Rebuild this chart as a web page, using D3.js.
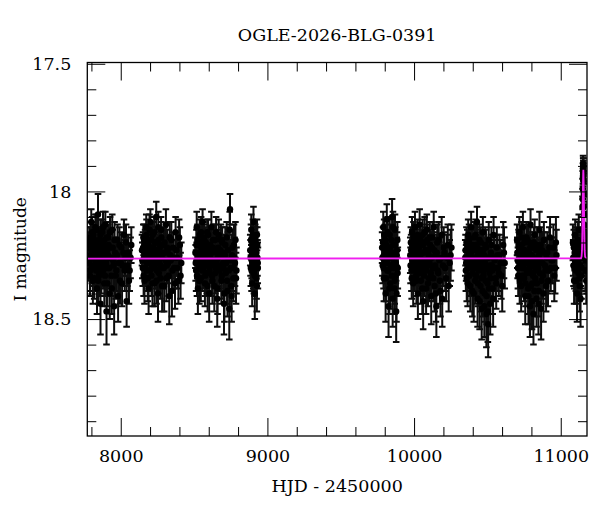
<!DOCTYPE html>
<html>
<head>
<meta charset="utf-8">
<script src="https://cdn.jsdelivr.net/npm/d3@7"></script>
<style>
  html, body { margin: 0; padding: 0; background: #fff; }
  #chart { width: 600px; height: 512px; }
  text { font-family: "DejaVu Serif", "Liberation Serif", serif; fill: #000; }
</style>
</head>
<body>
<div id="chart"></div>
<script>
// ============================================================================
// OGLE light curve: I magnitude vs HJD, with point-lens model
// ============================================================================

const title = "OGLE-2026-BLG-0391";
const xLabel = "HJD - 2450000";
const yLabel = "I magnitude";

const xMajorTicks = [8000, 9000, 10000, 11000];
const yMajorTicks = [17.5, 18, 18.5];

// observing seasons, each point is [HJD - 2450000, I mag, error]
const season1 = [[7779,18.22,0.06],[7784,18.27,0.07],[7788,18.19,0.05],[7792,18.31,0.08],[7795,18.25,0.06],[7799,18.12,0.05],[7803,18.29,0.07],[7806,18.21,0.06],[7810,18.35,0.09],[7813,18.17,0.05],[7817,18.26,0.06],[7820,18.23,0.06],[7824,18.30,0.07],[7827,18.14,0.05],[7831,18.28,0.07],[7834,18.20,0.06],[7838,18.38,0.10],[7841,18.24,0.06],[7845,18.09,0.08],[7848,18.27,0.06],[7852,18.33,0.08],[7855,18.19,0.05],[7859,18.25,0.06],[7862,18.44,0.12],[7866,18.22,0.06],[7869,18.29,0.07],[7873,18.16,0.05],[7877,18.26,0.06],[7880,18.31,0.07],[7884,18.21,0.06],[7888,18.36,0.09],[7891,18.24,0.06],[7895,18.13,0.05],[7899,18.28,0.07],[7903,18.47,0.13],[7907,18.23,0.06],[7911,18.30,0.07],[7915,18.18,0.05],[7920,18.26,0.06],[7925,18.40,0.10],[7930,18.22,0.06],[7936,18.33,0.08],[7942,18.15,0.06],[7948,18.27,0.07],[7955,18.45,0.11],[7962,18.24,0.06],[7970,18.31,0.08],[7978,18.19,0.06],[7987,18.28,0.07],[7995,18.35,0.09],[8004,18.22,0.06],[8013,18.29,0.08],[8022,18.17,0.06],[8031,18.26,0.07],[8040,18.43,0.10],[8050,18.24,0.07],[8061,18.31,0.08],[8072,18.21,0.07],
  [7781,18.28,0.07],[7786,18.20,0.06],[7790,18.33,0.08],[7794,18.18,0.06],[7797,18.26,0.07],[7801,18.23,0.06],[7805,18.16,0.06],[7808,18.30,0.07],[7812,18.25,0.06],[7815,18.21,0.06],[7819,18.34,0.08],[7822,18.19,0.06],[7826,18.27,0.07],[7829,18.24,0.06],[7833,18.31,0.08],[7836,18.15,0.06],[7840,18.28,0.07],[7843,18.22,0.06],[7847,18.35,0.09],[7850,18.20,0.06],[7854,18.26,0.07],[7857,18.30,0.07],[7861,18.17,0.06],[7864,18.24,0.06],[7868,18.32,0.08],[7871,18.21,0.06],[7875,18.28,0.07],[7879,18.14,0.06],[7882,18.25,0.07],[7886,18.29,0.07],[7889,18.19,0.06],[7893,18.33,0.08],[7897,18.23,0.06],[7901,18.27,0.07],[7905,18.18,0.06],[7909,18.36,0.09],[7913,18.25,0.07],[7917,18.21,0.06],[7922,18.30,0.08],[7927,18.16,0.06],[7933,18.26,0.07],[7939,18.38,0.10],[7945,18.22,0.07],[7951,18.29,0.08],[7958,18.19,0.07],[7966,18.33,0.09],[7974,18.25,0.07],[7982,18.41,0.10],[7991,18.21,0.07],[8000,18.28,0.08],[8009,18.36,0.09],[8018,18.24,0.07],[8027,18.31,0.08],[8036,18.20,0.07],[8045,18.29,0.08],[8056,18.35,0.09],[8067,18.26,0.08]];
const season2 = [[8145,18.23,0.06],[8150,18.30,0.07],[8154,18.18,0.05],[8158,18.27,0.07],[8162,18.35,0.09],[8166,18.21,0.06],[8170,18.26,0.06],[8174,18.14,0.05],[8178,18.31,0.08],[8182,18.24,0.06],[8186,18.19,0.06],[8190,18.38,0.10],[8194,18.25,0.06],[8198,18.28,0.07],[8202,18.12,0.05],[8206,18.22,0.06],[8210,18.33,0.08],[8214,18.26,0.06],[8218,18.17,0.05],[8222,18.29,0.07],[8226,18.23,0.06],[8230,18.36,0.09],[8234,18.20,0.06],[8238,18.27,0.07],[8242,18.10,0.06],[8246,18.31,0.07],[8250,18.24,0.06],[8254,18.40,0.11],[8258,18.19,0.05],[8262,18.28,0.07],[8266,18.22,0.06],[8270,18.34,0.08],[8275,18.15,0.05],[8280,18.26,0.06],[8285,18.30,0.08],[8290,18.21,0.06],[8296,18.37,0.10],[8302,18.24,0.06],[8308,18.13,0.06],[8314,18.29,0.07],[8320,18.23,0.06],[8327,18.33,0.08],[8334,18.18,0.06],[8341,18.27,0.07],[8349,18.39,0.10],[8357,18.22,0.06],[8365,18.30,0.08],[8374,18.16,0.06],[8383,18.26,0.07],[8393,18.35,0.09],[8403,18.21,0.07],[8413,18.28,0.08],
  [8147,18.27,0.07],[8152,18.22,0.06],[8156,18.33,0.08],[8160,18.19,0.06],[8164,18.25,0.06],[8168,18.30,0.07],[8172,18.23,0.06],[8176,18.17,0.06],[8180,18.28,0.07],[8184,18.34,0.09],[8188,18.21,0.06],[8192,18.26,0.07],[8196,18.15,0.06],[8200,18.31,0.08],[8204,18.24,0.06],[8208,18.19,0.06],[8212,18.29,0.07],[8216,18.36,0.09],[8220,18.22,0.06],[8224,18.27,0.07],[8228,18.16,0.06],[8232,18.30,0.08],[8236,18.25,0.06],[8240,18.20,0.06],[8244,18.35,0.09],[8248,18.23,0.06],[8252,18.28,0.07],[8256,18.14,0.06],[8260,18.32,0.08],[8264,18.26,0.07],[8268,18.21,0.06],[8272,18.29,0.07],[8277,18.18,0.06],[8282,18.37,0.10],[8287,18.24,0.07],[8293,18.30,0.08],[8299,18.20,0.06],[8305,18.27,0.07],[8311,18.34,0.09],[8317,18.22,0.07],[8324,18.28,0.08],[8331,18.41,0.11],[8338,18.25,0.07],[8345,18.19,0.07],[8353,18.31,0.08],[8361,18.26,0.07],[8370,18.36,0.10],[8379,18.23,0.07],[8388,18.30,0.08],[8398,18.18,0.07],[8408,18.33,0.09]];
const season3 = [[8509,18.24,0.06],[8514,18.31,0.08],[8518,18.14,0.06],[8522,18.27,0.07],[8526,18.38,0.10],[8530,18.21,0.06],[8534,18.29,0.07],[8538,18.17,0.06],[8542,18.25,0.06],[8546,18.34,0.09],[8550,18.22,0.06],[8554,18.28,0.07],[8558,18.12,0.05],[8562,18.30,0.08],[8566,18.24,0.06],[8570,18.19,0.06],[8574,18.36,0.09],[8578,18.26,0.07],[8582,18.23,0.06],[8586,18.32,0.08],[8590,18.16,0.05],[8594,18.27,0.07],[8598,18.21,0.06],[8603,18.40,0.11],[8608,18.25,0.06],[8613,18.29,0.07],[8618,18.14,0.06],[8623,18.33,0.08],[8628,18.22,0.06],[8633,18.27,0.07],[8638,18.37,0.10],[8643,18.19,0.06],[8648,18.30,0.08],[8653,18.24,0.06],[8658,18.42,0.11],[8663,18.26,0.07],[8668,18.17,0.06],[8674,18.31,0.08],[8680,18.23,0.06],[8686,18.35,0.09],[8692,18.20,0.06],[8698,18.28,0.07],[8704,18.44,0.12],[8710,18.25,0.07],[8716,18.32,0.08],[8722,18.18,0.06],[8728,18.39,0.10],[8734,18.27,0.07],[8740,18.46,0.12],[8745,18.07,0.06],[8750,18.30,0.08],[8756,18.41,0.10],[8762,18.22,0.07],[8768,18.34,0.09],[8775,18.26,0.08],[8782,18.19,0.07],[8789,18.31,0.09],
  [8511,18.28,0.07],[8516,18.21,0.06],[8520,18.33,0.08],[8524,18.19,0.06],[8528,18.26,0.07],[8532,18.24,0.06],[8536,18.35,0.09],[8540,18.20,0.06],[8544,18.29,0.07],[8548,18.16,0.06],[8552,18.27,0.07],[8556,18.31,0.08],[8560,18.22,0.06],[8564,18.18,0.06],[8568,18.28,0.07],[8572,18.25,0.06],[8576,18.33,0.08],[8580,18.20,0.06],[8584,18.29,0.07],[8588,18.23,0.06],[8592,18.37,0.10],[8596,18.17,0.06],[8600,18.26,0.07],[8605,18.31,0.08],[8610,18.21,0.06],[8615,18.27,0.07],[8620,18.24,0.06],[8625,18.35,0.09],[8630,18.19,0.06],[8635,18.29,0.07],[8640,18.23,0.06],[8645,18.32,0.08],[8650,18.16,0.06],[8655,18.27,0.07],[8660,18.38,0.10],[8665,18.22,0.07],[8671,18.29,0.08],[8677,18.25,0.07],[8683,18.19,0.06],[8689,18.33,0.09],[8695,18.24,0.07],[8701,18.30,0.08],[8707,18.40,0.11],[8713,18.21,0.07],[8719,18.28,0.08],[8725,18.35,0.09],[8731,18.23,0.07],[8737,18.31,0.08],[8743,18.15,0.07],[8748,18.27,0.08],[8753,18.37,0.10],[8759,18.25,0.08],[8765,18.30,0.09],[8772,18.21,0.08],[8779,18.28,0.09],[8786,18.34,0.10]];
const season4 = [[8883,18.23,0.06],[8887,18.30,0.07],[8890,18.15,0.06],[8893,18.27,0.07],[8896,18.36,0.09],[8899,18.21,0.06],[8902,18.26,0.06],[8905,18.12,0.06],[8908,18.32,0.08],[8911,18.24,0.06],[8914,18.40,0.10],[8917,18.19,0.06],[8920,18.28,0.07],[8923,18.22,0.06],[8926,18.34,0.08],[8929,18.17,0.06],[8932,18.26,0.07],[8935,18.30,0.08],
  [8885,18.26,0.07],[8888,18.19,0.06],[8892,18.31,0.08],[8895,18.24,0.06],[8898,18.28,0.07],[8901,18.17,0.06],[8904,18.30,0.08],[8907,18.22,0.06],[8910,18.27,0.07],[8913,18.33,0.08],[8916,18.25,0.07],[8919,18.20,0.06],[8922,18.29,0.07],[8925,18.24,0.07],[8928,18.37,0.10],[8931,18.21,0.07],[8934,18.28,0.08]];
const season5 = [[9782,18.22,0.06],[9786,18.29,0.07],[9790,18.14,0.06],[9794,18.34,0.09],[9798,18.25,0.06],[9802,18.19,0.06],[9806,18.40,0.11],[9810,18.27,0.07],[9814,18.11,0.06],[9818,18.31,0.08],[9822,18.23,0.06],[9826,18.45,0.12],[9830,18.26,0.07],[9834,18.17,0.06],[9838,18.36,0.10],[9842,18.24,0.06],[9846,18.30,0.08],[9850,18.10,0.07],[9854,18.42,0.11],[9858,18.21,0.06],[9862,18.28,0.07],[9866,18.38,0.10],[9870,18.15,0.06],[9874,18.33,0.08],[9878,18.47,0.12],[9882,18.25,0.07],[9886,18.19,0.07],[9889,18.30,0.08],
  [9784,18.26,0.07],[9788,18.20,0.06],[9792,18.30,0.08],[9796,18.17,0.06],[9800,18.27,0.07],[9804,18.23,0.06],[9808,18.34,0.09],[9812,18.21,0.06],[9816,18.28,0.07],[9820,18.16,0.06],[9824,18.31,0.08],[9828,18.25,0.07],[9832,18.38,0.10],[9836,18.22,0.06],[9840,18.29,0.07],[9844,18.19,0.06],[9848,18.33,0.09],[9852,18.26,0.07],[9856,18.14,0.06],[9860,18.30,0.08],[9864,18.24,0.07],[9868,18.35,0.09],[9872,18.21,0.07],[9876,18.28,0.08],[9880,18.40,0.11],[9884,18.23,0.07],[9888,18.32,0.09]];
const season6 = [[9974,18.25,0.07],[9978,18.20,0.06],[9982,18.31,0.08],[9986,18.16,0.06],[9990,18.27,0.07],[9994,18.36,0.09],[9998,18.22,0.06],[10002,18.29,0.07],[10006,18.14,0.06],[10010,18.25,0.06],[10014,18.33,0.08],[10018,18.19,0.06],[10022,18.27,0.07],[10026,18.40,0.10],[10030,18.23,0.06],[10034,18.30,0.07],[10038,18.13,0.06],[10042,18.26,0.06],[10046,18.35,0.09],[10050,18.21,0.06],[10054,18.28,0.07],[10058,18.17,0.06],[10062,18.43,0.11],[10066,18.24,0.06],[10070,18.31,0.08],[10074,18.20,0.06],[10078,18.27,0.07],[10082,18.38,0.10],[10087,18.15,0.06],[10092,18.29,0.07],[10097,18.23,0.06],[10102,18.34,0.09],[10107,18.18,0.06],[10112,18.26,0.07],[10117,18.41,0.11],[10122,18.22,0.06],[10128,18.30,0.08],[10134,18.14,0.06],[10140,18.37,0.10],[10146,18.25,0.07],[10152,18.45,0.12],[10158,18.20,0.07],[10165,18.32,0.08],[10172,18.27,0.07],[10180,18.39,0.10],[10188,18.17,0.07],[10197,18.29,0.08],[10207,18.24,0.08],[10218,18.34,0.09],[10230,18.21,0.08],[10243,18.28,0.09],[10255,18.22,0.09],
  [9976,18.29,0.07],[9980,18.23,0.06],[9984,18.34,0.08],[9988,18.21,0.06],[9992,18.26,0.07],[9996,18.18,0.06],[10000,18.31,0.08],[10004,18.24,0.06],[10008,18.28,0.07],[10012,18.20,0.06],[10016,18.35,0.09],[10020,18.25,0.06],[10024,18.17,0.06],[10028,18.29,0.07],[10032,18.22,0.06],[10036,18.32,0.08],[10040,18.26,0.07],[10044,18.19,0.06],[10048,18.30,0.08],[10052,18.24,0.06],[10056,18.38,0.10],[10060,18.21,0.06],[10064,18.27,0.07],[10068,18.33,0.08],[10072,18.16,0.06],[10076,18.29,0.07],[10080,18.23,0.06],[10085,18.31,0.08],[10090,18.19,0.06],[10095,18.36,0.09],[10100,18.25,0.07],[10105,18.28,0.07],[10110,18.21,0.06],[10115,18.32,0.08],[10120,18.26,0.07],[10125,18.18,0.06],[10131,18.34,0.09],[10137,18.23,0.07],[10143,18.29,0.08],[10149,18.40,0.11],[10155,18.24,0.07],[10161,18.31,0.08],[10168,18.19,0.07],[10176,18.35,0.09],[10184,18.26,0.08],[10192,18.42,0.11],[10202,18.22,0.08],[10212,18.30,0.09],[10224,18.26,0.09],[10236,18.37,0.10],[10249,18.25,0.10]];
const season7 = [[10349,18.26,0.07],[10353,18.31,0.08],[10357,18.20,0.06],[10361,18.28,0.07],[10365,18.36,0.09],[10369,18.17,0.06],[10373,18.25,0.06],[10377,18.33,0.08],[10381,18.22,0.06],[10385,18.29,0.07],[10389,18.14,0.06],[10393,18.27,0.07],[10397,18.39,0.10],[10401,18.23,0.06],[10405,18.30,0.08],[10409,18.18,0.06],[10413,18.26,0.07],[10417,18.35,0.09],[10421,18.21,0.06],[10425,18.28,0.07],[10429,18.12,0.06],[10433,18.42,0.11],[10437,18.25,0.07],[10441,18.31,0.08],[10445,18.19,0.06],[10449,18.27,0.07],[10453,18.37,0.10],[10457,18.23,0.06],[10461,18.46,0.12],[10465,18.29,0.08],[10469,18.16,0.06],[10473,18.33,0.09],[10477,18.25,0.07],[10481,18.40,0.11],[10485,18.21,0.07],[10489,18.30,0.08],[10493,18.48,0.13],[10497,18.26,0.07],[10501,18.36,0.10],[10505,18.52,0.13],[10509,18.19,0.07],[10514,18.32,0.09],[10519,18.44,0.12],[10524,18.24,0.07],[10530,18.29,0.08],[10536,18.38,0.10],[10542,18.17,0.07],[10549,18.27,0.08],[10556,18.34,0.09],[10564,18.22,0.08],[10573,18.30,0.09],[10583,18.25,0.08],[10595,18.33,0.09],[10608,18.21,0.09],[10618,18.28,0.10],
  [10351,18.23,0.06],[10355,18.28,0.07],[10359,18.34,0.09],[10363,18.21,0.06],[10367,18.27,0.07],[10371,18.30,0.08],[10375,18.19,0.06],[10379,18.26,0.07],[10383,18.37,0.10],[10387,18.24,0.06],[10391,18.29,0.07],[10395,18.21,0.06],[10399,18.32,0.08],[10403,18.26,0.07],[10407,18.40,0.11],[10411,18.23,0.06],[10415,18.29,0.07],[10419,18.17,0.06],[10423,18.33,0.08],[10427,18.27,0.07],[10431,18.22,0.06],[10435,18.36,0.09],[10439,18.28,0.07],[10443,18.24,0.07],[10447,18.43,0.11],[10451,18.30,0.08],[10455,18.20,0.06],[10459,18.34,0.09],[10463,18.27,0.07],[10467,18.39,0.10],[10471,18.23,0.07],[10475,18.31,0.08],[10479,18.45,0.12],[10483,18.28,0.08],[10487,18.35,0.09],[10491,18.22,0.07],[10495,18.41,0.11],[10499,18.30,0.08],[10503,18.47,0.12],[10507,18.26,0.08],[10511,18.38,0.10],[10516,18.29,0.08],[10521,18.34,0.09],[10527,18.21,0.07],[10533,18.31,0.08],[10539,18.42,0.11],[10545,18.26,0.08],[10552,18.30,0.09],[10560,18.36,0.10],[10568,18.25,0.08],[10578,18.32,0.09],[10589,18.28,0.09],[10601,18.37,0.10],[10613,18.24,0.10]];
const season8 = [[10702,18.19,0.06],[10706,18.27,0.07],[10710,18.33,0.08],[10714,18.22,0.06],[10718,18.16,0.06],[10722,18.29,0.07],[10726,18.25,0.06],[10730,18.37,0.10],[10734,18.21,0.06],[10738,18.30,0.08],[10742,18.14,0.06],[10746,18.26,0.07],[10750,18.34,0.09],[10754,18.23,0.06],[10758,18.41,0.11],[10762,18.28,0.07],[10766,18.18,0.06],[10770,18.31,0.08],[10774,18.24,0.06],[10778,18.38,0.10],[10782,18.20,0.06],[10786,18.27,0.07],[10790,18.45,0.12],[10794,18.13,0.06],[10798,18.32,0.08],[10802,18.25,0.07],[10806,18.36,0.09],[10810,18.22,0.06],[10814,18.48,0.12],[10818,18.29,0.08],[10822,18.17,0.06],[10826,18.34,0.09],[10830,18.26,0.07],[10835,18.42,0.11],[10840,18.21,0.07],[10845,18.30,0.08],[10850,18.39,0.10],[10855,18.15,0.07],[10860,18.27,0.08],[10866,18.46,0.12],[10872,18.23,0.07],[10878,18.33,0.09],[10885,18.19,0.07],[10892,18.29,0.08],[10900,18.37,0.10],[10908,18.24,0.08],[10917,18.31,0.09],[10927,18.18,0.08],[10938,18.27,0.09],[10950,18.22,0.09],[10962,18.30,0.10],[10971,18.25,0.10],
  [10704,18.24,0.06],[10708,18.30,0.08],[10712,18.21,0.06],[10716,18.27,0.07],[10720,18.35,0.09],[10724,18.22,0.06],[10728,18.29,0.07],[10732,18.18,0.06],[10736,18.26,0.07],[10740,18.33,0.08],[10744,18.23,0.06],[10748,18.30,0.08],[10752,18.20,0.06],[10756,18.28,0.07],[10760,18.36,0.09],[10764,18.25,0.07],[10768,18.32,0.08],[10772,18.19,0.06],[10776,18.27,0.07],[10780,18.41,0.11],[10784,18.24,0.07],[10788,18.30,0.08],[10792,18.22,0.06],[10796,18.37,0.10],[10800,18.28,0.07],[10804,18.43,0.11],[10808,18.26,0.07],[10812,18.33,0.08],[10816,18.20,0.06],[10820,18.39,0.10],[10824,18.27,0.07],[10828,18.31,0.08],[10833,18.23,0.07],[10838,18.36,0.09],[10843,18.28,0.08],[10848,18.44,0.12],[10853,18.25,0.07],[10858,18.32,0.08],[10863,18.21,0.07],[10869,18.35,0.09],[10875,18.28,0.08],[10882,18.40,0.11],[10889,18.24,0.08],[10896,18.31,0.09],[10904,18.26,0.08],[10913,18.35,0.10],[10922,18.22,0.08],[10932,18.30,0.09],[10944,18.27,0.09],[10956,18.33,0.10],[10967,18.20,0.10]];
const season9 = [[11083,18.20,0.07],[11087,18.29,0.08],[11091,18.35,0.09],[11095,18.24,0.07],[11099,18.17,0.06],[11103,18.31,0.08],[11107,18.26,0.07],[11111,18.40,0.11],[11115,18.22,0.07],[11119,18.28,0.07],[11123,18.15,0.06],[11127,18.34,0.09],[11131,18.25,0.07],[11135,18.42,0.11],[11138,18.21,0.07],[11141,18.30,0.08],[11143,18.26,0.07],[11146,18.15,0.05],[11148,18.06,0.04],[11150,17.99,0.04],[11151,17.95,0.03],[11152,17.92,0.03],[11153,17.90,0.03],[11154,17.91,0.03],[11155,17.93,0.03],[11156,17.96,0.04],[11157,18.01,0.04],[11158,18.06,0.04],[11160,18.13,0.05],[11162,18.20,0.06],[11165,18.25,0.07],[11168,18.31,0.08],[11171,18.22,0.07],[11174,18.35,0.09],[11177,18.27,0.08],
  [11085,18.26,0.07],[11089,18.22,0.07],[11093,18.30,0.08],[11097,18.27,0.07],[11101,18.21,0.07],[11105,18.35,0.09],[11109,18.24,0.07],[11113,18.29,0.08],[11117,18.19,0.07],[11121,18.32,0.08],[11125,18.26,0.07],[11129,18.37,0.10],[11133,18.23,0.07],[11137,18.29,0.08],[11140,18.24,0.07],[11142,18.33,0.09],[11149,18.03,0.04],[11151.5,17.94,0.03],[11152.5,17.89,0.03],[11153.5,17.92,0.03],[11154.5,17.90,0.03],[11159,18.09,0.05],[11170,18.27,0.08],[11173,18.24,0.08],[11176,18.31,0.09]];

// model curve (baseline with a short spike)
const modelHjd = [7772, 11138, 11142, 11145, 11147, 11149, 11151, 11153, 11154, 11155, 11157, 11159, 11161, 11163, 11166, 11179];
const modelMag = [18.263, 18.262, 18.255, 18.23, 18.17, 18.08, 17.99, 17.93, 17.915, 17.93, 17.99, 18.08, 18.17, 18.23, 18.256, 18.262];

const points = [].concat(season1, season2, season3, season4, season5, season6, season7, season8, season9);

const width = 600, height = 512;
const plot = { left: 87.3, right: 587, top: 62.5, bottom: 436 };

const svg = d3.select('#chart').append('svg')
    .attr('width', width)
    .attr('height', height)
    .attr('viewBox', `0 0 ${width} ${height}`);

const x = d3.scaleLinear().domain([7772, 11179]).range([plot.left, plot.right]);
// magnitudes: brighter is up
const y = d3.scaleLinear().domain([17.495, 18.958]).range([plot.top, plot.bottom]);

svg.append('clipPath').attr('id', 'clip')
    .append('rect')
    .attr('x', plot.left).attr('y', plot.top)
    .attr('width', plot.right - plot.left).attr('height', plot.bottom - plot.top);

const data = svg.append('g').attr('clip-path', 'url(#clip)');

// error bars
const bars = data.append('g')
    .attr('stroke', '#0d0d0d')
    .attr('stroke-width', 2)
    .attr('fill', 'none');

bars.selectAll('path')
    .data(points)
    .join('path')
    .attr('d', d => {
        const px = x(d[0]), y0 = y(d[1] - d[2]), y1 = y(d[1] + d[2]);
        return `M${px},${y0}V${y1}M${px - 3.3},${y0}H${px + 3.3}M${px - 3.3},${y1}H${px + 3.3}`;
    });

data.append('g').selectAll('circle')
    .data(points)
    .join('circle')
    .attr('cx', d => x(d[0]))
    .attr('cy', d => y(d[1]))
    .attr('r', 3.2)
    .attr('fill', '#000');

// model line on top
const line = d3.line().x(d => x(d[0])).y(d => y(d[1]));
data.append('path')
    .datum(modelHjd.map((t, i) => [t, modelMag[i]]))
    .attr('d', line)
    .attr('fill', 'none')
    .attr('stroke', '#f020f0')
    .attr('stroke-width', 1.8);

// axes: ticks on all four sides, pointing inward
const xMinor = d3.range(7800, 11180, 200).filter(v => v % 1000 !== 0);
const yMinor = d3.range(17.6, 18.95, 0.1).map(v => +v.toFixed(1)).filter(v => yMajorTicks.indexOf(v) < 0);
const yFmt = d => (d % 1 === 0 ? String(d) : d.toFixed(1));

function styleAxis(g) {
    g.select('.domain').remove();
    g.selectAll('.tick line').attr('stroke', '#000').attr('stroke-width', 1);
    g.selectAll('.tick text').style('font-size', '17.5px').style('font-family', '"DejaVu Serif", serif');
}

svg.append('g').attr('transform', `translate(0,${plot.bottom})`)
    .call(d3.axisBottom(x).tickValues(xMajorTicks).tickSize(-18).tickPadding(13.6).tickFormat(d3.format('d')))
    .call(styleAxis);
svg.append('g').attr('transform', `translate(0,${plot.bottom})`)
    .call(d3.axisBottom(x).tickValues(xMinor).tickSize(-9).tickFormat(''))
    .call(styleAxis);
svg.append('g').attr('transform', `translate(0,${plot.top})`)
    .call(d3.axisTop(x).tickValues(xMajorTicks).tickSize(-18).tickFormat(''))
    .call(styleAxis);
svg.append('g').attr('transform', `translate(0,${plot.top})`)
    .call(d3.axisTop(x).tickValues(xMinor).tickSize(-9).tickFormat(''))
    .call(styleAxis);

svg.append('g').attr('transform', `translate(${plot.left},0)`)
    .call(d3.axisLeft(y).tickValues(yMajorTicks).tickSize(-18).tickPadding(16).tickFormat(yFmt))
    .call(styleAxis);
svg.append('g').attr('transform', `translate(${plot.left},0)`)
    .call(d3.axisLeft(y).tickValues(yMinor).tickSize(-9).tickFormat(''))
    .call(styleAxis);
svg.append('g').attr('transform', `translate(${plot.right},0)`)
    .call(d3.axisRight(y).tickValues(yMajorTicks).tickSize(-18).tickFormat(''))
    .call(styleAxis);
svg.append('g').attr('transform', `translate(${plot.right},0)`)
    .call(d3.axisRight(y).tickValues(yMinor).tickSize(-9).tickFormat(''))
    .call(styleAxis);

// frame
svg.append('rect')
    .attr('x', plot.left).attr('y', plot.top)
    .attr('width', plot.right - plot.left).attr('height', plot.bottom - plot.top)
    .attr('fill', 'none')
    .attr('stroke', '#000')
    .attr('stroke-width', 1.3);

// labels
svg.append('text')
    .attr('x', (plot.left + plot.right) / 2).attr('y', 40.7)
    .attr('text-anchor', 'middle')
    .style('font-size', '17.5px')
    .text(title);

svg.append('text')
    .attr('x', (plot.left + plot.right) / 2).attr('y', 492)
    .attr('text-anchor', 'middle')
    .style('font-size', '17.5px')
    .text(xLabel);

svg.append('text')
    .attr('transform', `translate(25.7,${(plot.top + plot.bottom) / 2}) rotate(-90)`)
    .attr('text-anchor', 'middle')
    .style('font-size', '17px')
    .text(yLabel);
</script>
</body>
</html>
